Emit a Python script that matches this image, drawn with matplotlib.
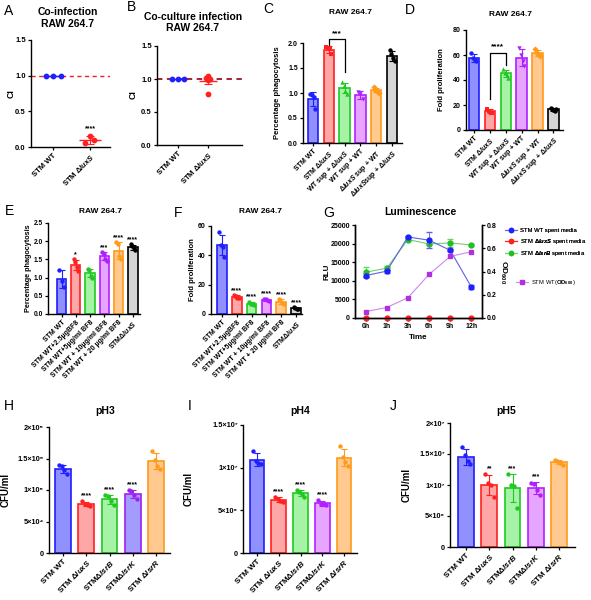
import numpy as np
import matplotlib
matplotlib.use("Agg")
import matplotlib.pyplot as plt
from matplotlib.lines import Line2D

plt.rcParams['font.family'] = ['Liberation Sans', 'DejaVu Sans']
plt.rcParams['font.weight'] = 'bold'
plt.rcParams['mathtext.fontset'] = 'custom'
plt.rcParams['mathtext.rm'] = 'Liberation Sans'
plt.rcParams['mathtext.it'] = 'Liberation Sans:italic'
plt.rcParams['mathtext.bf'] = 'Liberation Sans:bold'
plt.rcParams['axes.linewidth'] = 1.0

# ---------------- data ----------------
# A / B : competitive index
a_wt = [1.0, 1.0, 1.0]
a_lux = [0.16, 0.05, 0.10]
b_wt = [1.0, 1.0, 1.0]
b_lux = [1.04, 1.01, 1.0, 0.99, 0.78]
ab_labels = ["STM WT", r"STM $\it{\Delta luxS}$"]

# C : percentage phagocytosis
c_vals = [[0.98, 0.96, 0.92, 0.68], [1.92, 1.90, 1.88, 1.78],
          [1.22, 1.15, 1.05, 0.98], [1.02, 0.98, 0.88],
          [1.12, 1.07, 1.05, 1.00], [1.86, 1.78, 1.70, 1.64]]
c_labels = ["STM WT", r"STM $\it{\Delta luxS}$", r"WT sup + $\it{\Delta luxS}$",
            "WT sup + WT", r"$\it{\Delta luxS}$ sup + WT",
            r"$\it{\Delta luxS}$sup + $\it{\Delta luxS}$"]

# D : fold proliferation
d_vals = [[62, 58, 56, 55], [17, 15, 14, 14], [49, 46, 44, 42],
          [66, 60, 55, 51], [65, 62, 61, 59], [18, 17, 16, 15, 17]]
d_labels = ["STM WT", r"STM $\it{\Delta luxS}$", r"WT sup + $\it{\Delta luxS}$",
            "WT sup + WT", r"$\it{\Delta luxS}$ sup + WT",
            r"$\it{\Delta luxS}$ sup + $\it{\Delta luxS}$"]

# E : percentage phagocytosis with BF8
e_vals = [[1.22, 0.90, 0.74], [1.50, 1.42, 1.28, 1.18], [1.24, 1.22, 1.05, 1.00],
          [1.70, 1.65, 1.52, 1.46], [1.97, 1.92, 1.58, 1.50], [1.92, 1.86, 1.80, 1.76]]
e_stars = ["", "*", "", "***", "****", "****"]
ef_labels = ["STM WT", "STM WT+2.5µgBF8", "STM WT+5µg/ml BF8",
             "STM WT + 10µg/ml BF8", "STM WT + 20 µg/ml BF8", r"STM$\it{\Delta luxS}$"]

# F : fold proliferation with BF8
f_vals = [[56, 47, 46, 39], [13, 12, 11, 11], [8.5, 7, 7, 6],
          [10.5, 10, 9.5, 9], [10, 9.5, 7.5, 7], [4.5, 4, 3.5, 3.5]]
f_stars = ["", "****", "****", "****", "****", "****"]

# G : luminescence
g_time = ["0h", "1h", "3h", "6h", "9h", "12h"]
g_wt = [11400, 12600, 21800, 20900, 18200, 8300]
g_wt_err = [500, 400, 300, 2200, 300, 600]
g_lux = [0, 0, 0, 0, 0, 0]
g_lsrb = [12300, 13400, 21100, 19900, 20200, 19600]
g_lsrb_err = [1400, 600, 300, 300, 1000, 300]
g_od = [0.055, 0.09, 0.175, 0.375, 0.53, 0.57]

# H / I / J : CFU/ml at pH3, pH4, pH5
ph_labels = ["STM WT", r"STM $\it{\Delta luxS}$", r"STM$\it{\Delta lsrB}$",
             r"STM$\it{\Delta lsrK}$", r"STM $\it{\Delta lsrR}$"]
h_vals = [[1.40e5, 1.38e5, 1.32e5, 1.26e5], [0.82e5, 0.78e5, 0.76e5, 0.74e5],
          [0.92e5, 0.90e5, 0.82e5, 0.76e5], [1.00e5, 0.98e5, 0.92e5, 0.85e5],
          [1.62e5, 1.48e5, 1.38e5, 1.34e5]]
h_stars = ["", "****", "****", "****", ""]
i_vals = [[1.20e7, 1.08e7, 1.06e7, 1.04e7], [0.66e7, 0.63e7, 0.61e7, 0.60e7],
          [0.74e7, 0.72e7, 0.69e7, 0.66e7], [0.62e7, 0.58e7, 0.57e7, 0.56e7],
          [1.25e7, 1.13e7, 1.07e7, 1.02e7]]
i_stars = ["", "****", "****", "****", ""]
j_vals = [[1.62e7, 1.48e7, 1.38e7, 1.34e7], [1.18e7, 1.03e7, 1.00e7, 0.80e7],
          [1.17e7, 1.00e7, 0.98e7, 0.63e7], [1.04e7, 1.02e7, 0.92e7, 0.84e7],
          [1.40e7, 1.38e7, 1.36e7, 1.33e7]]
j_stars = ["", "**", "***", "***", ""]

# ---------------- styles ----------------
FACE = {'blue': '#9090ff', 'red': '#ffa6a6', 'green': '#a6f2a6', 'purple': '#e6a6ff',
        'orange': '#ffc990', 'gray': '#d6d6d6', 'violet': '#a39cff'}
EDGE = {'blue': '#1f1fff', 'red': '#ff2020', 'green': '#20c820', 'purple': '#b020ff',
        'orange': '#ff9a1a', 'gray': '#000000', 'violet': '#a020f0'}
six = ['blue', 'red', 'green', 'purple', 'orange', 'gray']

W, H = 591, 600
fig = plt.figure(figsize=(W / 100, H / 100), dpi=100)


def add_ax(x0, x1, y0, y1):
    return fig.add_axes([x0 / W, 1 - y1 / H, (x1 - x0) / W, (y1 - y0) / H])


def ftext(x, y, s, **kw):
    fig.text(x / W, 1 - y / H, s, ha='center', va='center', **kw)


def style(ax, ylabel, lab_x, fs=5, lfs=None):
    for s in ['top', 'right']:
        ax.spines[s].set_visible(False)
    ax.tick_params(length=2.2, width=0.9, labelsize=fs, pad=1.5)
    ax.set_ylabel(ylabel, fontsize=lfs or fs + 0.8, fontweight='bold')
    ax.yaxis.set_label_coords(lab_x, 0.5)


def xlabels(ax, labels, fs=5):
    ax.set_xticks(range(len(labels)))
    ax.set_xticklabels(labels, rotation=45, ha='right', rotation_mode='anchor',
                       fontsize=fs, fontweight='bold')


def bars(ax, vals, colors, markers, stars=None, pad=0.0, width=0.65, spread=0.16):
    for i, v in enumerate(vals):
        v = np.array(v, dtype=float)
        m, sd = v.mean(), v.std(ddof=1)
        c = colors[i]
        ax.bar(i, m, width=width, color=FACE[c], edgecolor=EDGE[c], lw=1.2, zorder=2)
        ax.errorbar(i, m, yerr=sd, color=EDGE[c], capsize=2, lw=0.8, capthick=0.8, zorder=3)
        xs = i + np.linspace(-spread, spread, len(v))
        ax.scatter(xs, v, s=10, color=EDGE[c], marker=markers[i], zorder=4, lw=0)
        if stars and stars[i]:
            ax.text(i, max(v.max(), m + sd) + pad, stars[i], ha='center', va='bottom',
                    fontsize=5, fontweight='bold')


def yticks(ax, ticks, labels):
    ax.set_yticks(ticks)
    ax.set_yticklabels(labels, fontweight='bold')


# ---------------- A ----------------
ax = add_ax(31, 110, 40, 147)
ax.axhline(1.0, color='#e8222a', ls='--', lw=1.0, dashes=(3, 2.5), zorder=1)
ax.scatter(0 + np.array([-0.2, 0, 0.2]), a_wt, s=10, color='#1f1fff', zorder=3)
ax.hlines(np.mean(a_wt), -0.28, 0.28, color='#1f1fff', lw=1.0, zorder=2)
ax.scatter(1 + np.array([0.0, -0.15, 0.12]), a_lux, s=10, color='#ff2020', zorder=3)
ax.hlines(np.mean(a_lux), 0.7, 1.3, color='#ff2020', lw=1.0)
ax.errorbar(1, np.mean(a_lux), yerr=np.std(a_lux, ddof=1), color='#ff2020',
            capsize=3, lw=0.8, capthick=0.8)
ax.set_xlim(-0.6, 1.54)
ax.set_ylim(0, 1.5)
ax.text(1, 0.2, "****", ha='center', va='bottom', fontsize=5, fontweight='bold')
style(ax, "CI", -0.2, fs=5.5)
yticks(ax, [0, 0.5, 1.0, 1.5], ["0.0", "0.5", "1.0", "1.5"])
ax.set_xticks([0, 1])
ax.set_xticklabels(ab_labels, rotation=45, ha='right', rotation_mode='anchor',
                   fontsize=5.5, fontweight='bold')
ftext(68, 12, "Co-infection", fontsize=7.5, fontweight='bold')
ftext(68, 24, "RAW 264.7", fontsize=7.5, fontweight='bold')
ftext(9, 11, "A", fontsize=10, fontweight='normal')

# ---------------- B ----------------
ax = add_ax(157, 242, 46, 145)
ax.axhline(1.0, color='#a0102a', ls='--', lw=1.3, dashes=(3, 2.5), zorder=1)
ax.scatter(0 + np.array([-0.2, 0, 0.2]), b_wt, s=10, color='#1f1fff', zorder=3)
ax.hlines(np.mean(b_wt), -0.28, 0.28, color='#1f1fff', lw=1.0, zorder=2)
ax.scatter(1 + np.array([0.0, -0.08, 0.08, 0.0, 0.0]), b_lux, s=10, color='#ff2020', zorder=3)
ax.hlines(np.mean(b_lux), 0.7, 1.3, color='#ff2020', lw=1.0)
ax.errorbar(1, np.mean(b_lux), yerr=np.std(b_lux, ddof=1) / np.sqrt(len(b_lux)),
            color='#ff2020', capsize=3, lw=0.8, capthick=0.8)
ax.set_xlim(-0.7, 2.13)
ax.set_ylim(0, 1.5)
style(ax, "", -0.25, fs=5.5)
yticks(ax, [0, 0.5, 1.0, 1.5], ["0.0", "0.5", "1.0", "1.5"])
ax.set_xticks([0, 1])
ax.set_xticklabels(ab_labels, rotation=45, ha='right', rotation_mode='anchor',
                   fontsize=5.5, fontweight='bold')
ftext(133, 95, "CI", fontsize=6.3, fontweight='bold', rotation=90)
ftext(193, 17, "Co-culture infection", fontsize=7.5, fontweight='bold')
ftext(193, 28, "RAW 264.7", fontsize=7.5, fontweight='bold')
ftext(132, 7, "B", fontsize=10, fontweight='normal')

# ---------------- C ----------------
ax = add_ax(303, 402, 43, 143)
bars(ax, c_vals, six, ['o', 's', '^', 'v', 'D', 'o'])
ax.plot([1, 1, 2, 2], [1.97, 2.08, 2.08, 1.42], color='k', lw=0.9, clip_on=False)
ax.text(1.5, 2.12, "***", ha='center', va='bottom', fontsize=6, fontweight='bold')
ax.set_xlim(-0.63, 5.63)
ax.set_ylim(0, 2.0)
style(ax, "Percentage phagocytosis", -0.22, lfs=5.5)
yticks(ax, [0, 0.5, 1.0, 1.5, 2.0], ["0.0", "0.5", "1.0", "1.5", "2.0"])
xlabels(ax, c_labels)
ftext(350, 13, "RAW 264.7", fontsize=6, fontweight='bold')
ftext(268, 9, "C", fontsize=10, fontweight='normal')

# ---------------- D ----------------
ax = add_ax(466, 563, 30, 130)
bars(ax, d_vals, six, ['o', 's', '^', 'v', 'D', 'o'])
ax.plot([1, 1, 2, 2], [25, 62, 62, 52], color='k', lw=0.9)
ax.text(1.5, 63.5, "****", ha='center', va='bottom', fontsize=6, fontweight='bold')
ax.set_xlim(-0.5, 5.6)
ax.set_ylim(0, 80)
style(ax, "Fold proliferation", -0.22, lfs=5.5)
yticks(ax, [0, 20, 40, 60, 80], ["0", "20", "40", "60", "80"])
xlabels(ax, d_labels)
ftext(510, 14, "RAW 264.7", fontsize=6, fontweight='bold')
ftext(410, 10, "D", fontsize=10, fontweight='normal')

# ---------------- E ----------------
ax = add_ax(48, 140, 223, 314)
bars(ax, e_vals, six, ['o'] * 6, e_stars, pad=0.02)
ax.set_xlim(-0.95, 5.5)
ax.set_ylim(0, 2.5)
style(ax, "Percentage phagocytosis", -0.17, fs=4.8, lfs=5.2)
yticks(ax, [0, 0.5, 1.0, 1.5, 2.0, 2.5], ["0.0", "0.5", "1.0", "1.5", "2.0", "2.5"])
xlabels(ax, ef_labels)
ftext(100, 212, "RAW 264.7", fontsize=6, fontweight='bold')
ftext(9, 211, "E", fontsize=10, fontweight='normal')

# ---------------- F ----------------
ax = add_ax(211, 302, 226, 314)
bars(ax, f_vals, six, ['o'] * 6, f_stars, pad=0.8)
ax.set_xlim(-0.73, 5.4)
ax.set_ylim(0, 60)
style(ax, "Fold proliferation", -0.17, lfs=5.5)
yticks(ax, [0, 20, 40, 60], ["0", "20", "40", "60"])
xlabels(ax, ef_labels)
ftext(260, 212, "RAW 264.7", fontsize=6, fontweight='bold')
ftext(178, 213, "F", fontsize=10, fontweight='normal')

# ---------------- G ----------------
ax = add_ax(355, 482, 225, 318)
x = np.arange(len(g_time))
ax.errorbar(x, g_wt, yerr=g_wt_err, color='#6060e0', marker='o', ms=3.5, mfc='#1f1fff',
            mec='#1f1fff', lw=0.8, capsize=2, elinewidth=0.6, zorder=3)
ax.errorbar(x, g_lsrb, yerr=g_lsrb_err, color='#70d070', marker='o', ms=3.5, mfc='#20c020',
            mec='#20c020', lw=0.8, capsize=2, elinewidth=0.6, zorder=2)
ax.plot(x, g_lux, color='#ff2020', marker='o', ms=3.5, lw=0.8, zorder=4, clip_on=False)
ax.set_xlim(-0.5, 5.5)
ax.set_ylim(0, 25000)
ax.spines['top'].set_visible(False)
ax.tick_params(length=2.2, width=0.9, labelsize=5, pad=1.5)
yticks(ax, [0, 5000, 10000, 15000, 20000, 25000],
       ["0", "5000", "10000", "15000", "20000", "25000"])
ax.set_xticks(x)
ax.set_xticklabels(g_time, fontweight='bold')
ax.set_ylabel("RLU", fontsize=5.8, fontweight='bold')
ax.yaxis.set_label_coords(-0.19, 0.5)
ax.set_xlabel("Time", fontsize=5.8, fontweight='bold', labelpad=3)
ax2 = ax.twinx()
ax2.plot(x, g_od, color='#cc88ee', marker='s', ms=3.3, mfc='#b030e0', mec='#b030e0', lw=0.8)
ax2.set_ylim(0, 0.8)
ax2.spines['top'].set_visible(False)
ax2.tick_params(length=2.2, width=0.9, labelsize=5, pad=1.5)
ax2.set_yticks([0, 0.2, 0.4, 0.6, 0.8])
ax2.set_yticklabels(["0.0", "0.2", "0.4", "0.6", "0.8"], fontweight='bold')
ftext(503, 272, r"$\mathbf{OD_{600}}$", fontsize=6, rotation=270)
ftext(420, 212, "Luminescence", fontsize=7.5, fontweight='bold')
ftext(329, 213, "G", fontsize=10, fontweight='normal')
h1 = [Line2D([], [], color='#6060e0', marker='o', mfc='#1f1fff', mec='#1f1fff', ms=3, lw=0.8),
      Line2D([], [], color='#ff2020', marker='o', ms=3, lw=0.8),
      Line2D([], [], color='#70d070', marker='o', mfc='#20c020', mec='#20c020', ms=3, lw=0.8)]
l1 = ["STM WT spent media", r"STM $\it{\Delta luxS}$ spent media",
      r"STM $\it{\Delta lsrB}$ spent media"]
leg_font = {'size': 4.2, 'weight': 'normal'}
leg1 = fig.legend(h1, l1, loc='upper left', bbox_to_anchor=(505 / W, 1 - 228 / H),
                  frameon=False, prop=leg_font, handlelength=2.0, labelspacing=0.6,
                  borderaxespad=0, borderpad=0, handletextpad=0.5)
h2 = [Line2D([], [], color='#cc88ee', marker='s', mfc='#b030e0', mec='#b030e0', ms=3, lw=0.8)]
fig.legend(h2, [r"STM WT($\mathbf{OD_{600}}$)"], loc='upper left',
           bbox_to_anchor=(516 / W, 1 - 278 / H), frameon=False, prop=leg_font,
           handlelength=2.0, borderaxespad=0, borderpad=0, handletextpad=0.5)
fig.add_artist(leg1)

# ---------------- H / I / J ----------------
ph_cols = [['blue', 'red', 'green', 'violet', 'orange'],
           ['blue', 'red', 'green', 'purple', 'orange'],
           ['blue', 'red', 'green', 'purple', 'orange']]
panels = [
    ((49, 170, 427, 553), h_vals, h_stars, 2e5, [0, 5e4, 1e5, 1.5e5, 2e5],
     ["0", "5×10⁴", "1×10⁵", "1.5×10⁵", "2×10⁵"], (-0.6, 4.6), -0.32, 105, "pH3", "H", 9),
    ((243, 357, 425, 553), i_vals, i_stars, 1.5e7, [0, 5e6, 1e7, 1.5e7],
     ["0", "5×10⁶", "1×10⁷", "1.5×10⁷"], (-0.65, 4.6), -0.43, 300, "pH4", "I", 190),
    ((450, 575, 423, 547), j_vals, j_stars, 2e7, [0, 5e6, 1e7, 1.5e7, 2e7],
     ["0", "5×10⁶", "1×10⁷", "1.5×10⁷", "2×10⁷"], (-0.7, 4.7), -0.31, 506, "pH5", "J", 393),
]
for k, (box, vals, stars, top, ticks, tlabs, xl, labx, tx, title, letter, lx) in enumerate(panels):
    ax = add_ax(*box)
    bars(ax, vals, ph_cols[k], ['o'] * 5, stars, pad=top * 0.015, width=0.68, spread=0.18)
    ax.set_xlim(*xl)
    ax.set_ylim(0, top)
    style(ax, "CFU/ml", labx, fs=5.3, lfs=7)
    yticks(ax, ticks, tlabs)
    xlabels(ax, ph_labels, fs=5.8)
    ftext(tx, 411, title, fontsize=7.5, fontweight='bold')
    ftext(lx, 406, letter, fontsize=10, fontweight='normal')

fig.savefig("out.png", dpi=100)
